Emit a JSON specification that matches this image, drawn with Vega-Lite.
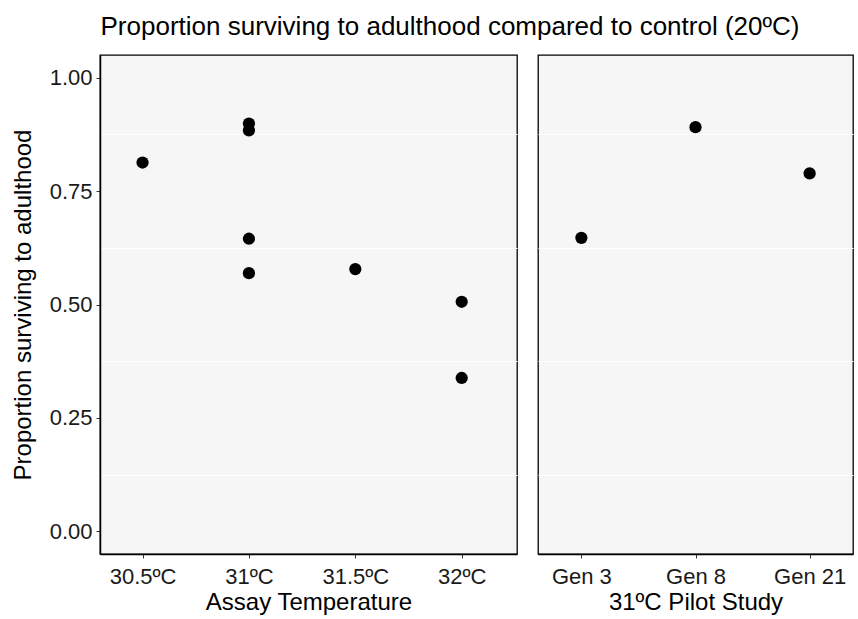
{
  "$schema": "https://vega.github.io/schema/vega-lite/v6.json",
  "background": "white",
  "padding": {"left": 10, "top": 14, "right": 3, "bottom": 0},
  "title": {
    "text": "Proportion surviving to adulthood compared to control (20ºC)",
    "anchor": "start",
    "dx": 90,
    "font": "Liberation Sans",
    "fontSize": 26,
    "fontWeight": "normal",
    "color": "#000",
    "offset": 14
  },
  "config": {
    "font": "Liberation Sans",
    "view": {"fill": "#f6f6f6", "stroke": "#000", "strokeWidth": 1.3}
  },
  "datasets": {
    "assay": [
      {"temperature": 30.5, "proportion": 0.813},
      {"temperature": 31, "proportion": 0.899},
      {"temperature": 31, "proportion": 0.884},
      {"temperature": 31, "proportion": 0.645},
      {"temperature": 31, "proportion": 0.569},
      {"temperature": 31.5, "proportion": 0.578},
      {"temperature": 32, "proportion": 0.506},
      {"temperature": 32, "proportion": 0.338}
    ],
    "pilot": [
      {"generation": "Gen 3", "proportion": 0.647},
      {"generation": "Gen 8", "proportion": 0.891},
      {"generation": "Gen 21", "proportion": 0.789}
    ]
  },
  "hconcat": [
    {
      "width": 417,
      "height": 499,
      "data": {"name": "assay"},
      "layer": [
        {
          "mark": {"type": "point", "filled": true, "color": "#000", "opacity": 1, "size": 150},
          "encoding": {
            "x": {
              "field": "temperature", "type": "quantitative",
              "scale": {"domain": [30.3, 32.26], "nice": false, "zero": false},
              "axis": {"values": [30.5, 31, 31.5, 32], "labelExpr": "datum.value + 'ºC'", "grid": false, "title": "Assay Temperature",
                "labelFont": "Liberation Sans", "labelFontSize": 22, "labelColor": "#1a1a1a", "labelPadding": 8,
                "titleFont": "Liberation Sans", "titleFontSize": 24, "titleFontWeight": "normal", "titleColor": "#000", "titlePadding": 3,
                "tickColor": "#333", "tickSize": 4, "domainColor": "#000", "domainWidth": 1.5}
            },
            "y": {
              "field": "proportion", "type": "quantitative",
              "scale": {"domain": [-0.05, 1.05], "nice": false, "zero": false},
              "axis": {"orient": "left", "values": [0, 0.25, 0.5, 0.75, 1], "format": ".2f", "grid": false, "title": "Proportion surviving to adulthood",
                "labelFont": "Liberation Sans", "labelFontSize": 22, "labelColor": "#1a1a1a", "labelPadding": 4,
                "titleFont": "Liberation Sans", "titleFontSize": 24, "titleFontWeight": "normal", "titleColor": "#000", "titlePadding": 14,
                "tickColor": "#333", "tickSize": 4, "domainColor": "#000", "domainWidth": 1.5}
            }
          }
        },
        {
          "mark": {"type": "point", "filled": true, "opacity": 0},
          "encoding": {
            "y": {
              "field": "proportion", "type": "quantitative",
              "scale": {"domain": [-0.05, 1.05], "nice": false, "zero": false},
              "axis": {"orient": "right", "values": [0.125, 0.375, 0.625, 0.875], "grid": true, "gridColor": "#ffffff", "gridWidth": 1.2, "gridOpacity": 1, "labels": false, "ticks": false, "domain": false, "title": null}
            }
          }
        }
      ],
      "resolve": {"axis": {"y": "independent"}}
    },
    {
      "width": 315,
      "height": 499,
      "data": {"name": "pilot"},
      "mark": {"type": "point", "filled": true, "color": "#000", "opacity": 1, "size": 150},
      "encoding": {
        "x": {
          "field": "generation", "type": "ordinal",
          "sort": ["Gen 3", "Gen 8", "Gen 21"],
          "scale": {"type": "point", "padding": 0.38},
          "axis": {"labelAngle": 0, "grid": false, "title": "31ºC Pilot Study",
            "labelFont": "Liberation Sans", "labelFontSize": 22, "labelColor": "#1a1a1a", "labelPadding": 8,
            "titleFont": "Liberation Sans", "titleFontSize": 24, "titleFontWeight": "normal", "titleColor": "#000", "titlePadding": 3,
            "tickColor": "#333", "tickSize": 4, "domainColor": "#000", "domainWidth": 1.5}
        },
        "y": {
          "field": "proportion", "type": "quantitative",
          "scale": {"domain": [-0.05, 1.05], "nice": false, "zero": false},
          "axis": {"values": [0.125, 0.375, 0.625, 0.875], "grid": true, "gridColor": "#ffffff", "gridWidth": 1.2, "gridOpacity": 1, "labels": false, "ticks": false, "domain": false, "title": null}
        }
      }
    }
  ],
  "spacing": 19,
  "resolve": {"scale": {"y": "independent"}}
}
